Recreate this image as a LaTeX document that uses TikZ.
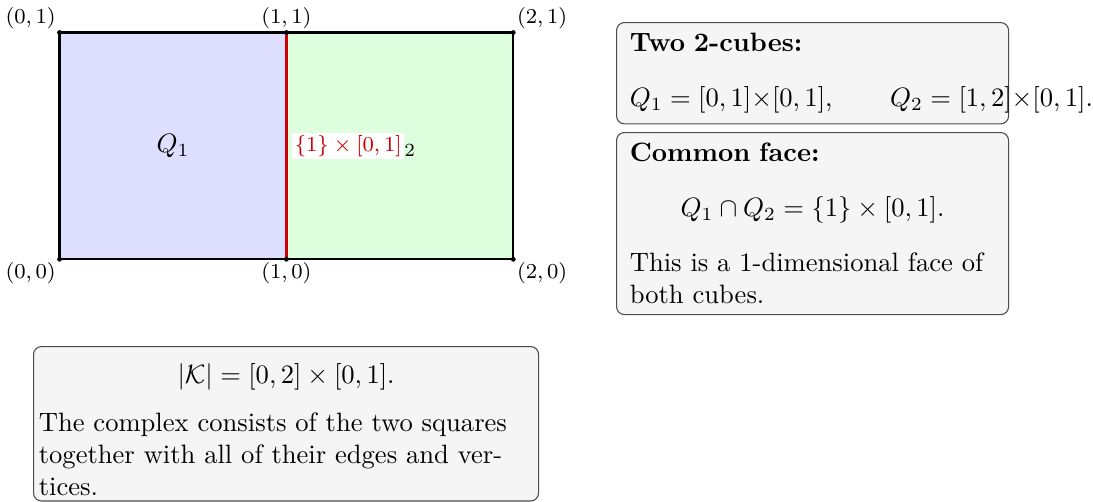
\documentclass[tikz,border=0pt]{standalone}
\usepackage{amsmath}
\begin{document}
\begin{tikzpicture}[x=0.3762pt,y=-0.3762pt,
  vlabel/.style={font=\footnotesize,inner sep=1.2pt},
  edgeline/.style={draw=black,thick},
  faceline/.style={draw=red!80!black,line width=1.35pt},
  infobox/.style={draw=black!70,fill=black!4,rounded corners=3pt,anchor=north west,align=left,inner xsep=5pt,inner ysep=4pt,text width=137.5pt},
]
\useasboundingbox (0,0) rectangle (1093,502);
\coordinate (v00) at (59.5,259.3);
\coordinate (v10) at (286.4,259.3);
\coordinate (v20) at (513.3,259.3);
\coordinate (v01) at (59.5,32.5);
\coordinate (v11) at (286.4,32.5);
\coordinate (v21) at (513.3,32.5);
\coordinate (mid) at (286.4,145.9);
\fill[blue!13] (v00) rectangle (v11);
\fill[green!13] (v10) rectangle (v21);
\draw[edgeline] (v00) -- (v10) -- (v20) -- (v21) -- (v11) -- (v01) -- cycle;
\draw[faceline] (v10) -- (v11);
\foreach \v in {v00,v10,v20,v01,v11,v21} \fill (\v) circle (0.9pt);
\node[vlabel,above left] (l01) at (v01) {$(0,1)$};
\node[vlabel,above] (l11) at (v11) {$(1,1)$};
\node[vlabel,above right] (l21) at (v21) {$(2,1)$};
\node[vlabel,below left] (l00) at (v00) {$(0,0)$};
\node[vlabel,below] (l10) at (v10) {$(1,0)$};
\node[vlabel,below right] (l20) at (v20) {$(2,0)$};
\node (q1) at (173,145.9) {$Q_1$};
\node (q2) at (399.85,145.9) {$Q_2$};
\node[font=\footnotesize,text=red!80!black,fill=white,inner sep=1pt,anchor=west,xshift=2pt] (face) at (mid) {$\{1\}\times[0,1]$};
\node[infobox] (b1) at (616,22) {\abovedisplayskip=8.7pt\belowdisplayskip=8.7pt\textbf{Two 2-cubes:}\[ Q_1=[0,1]\times[0,1],\qquad Q_2=[1,2]\times[0,1]. \]};
\node[infobox] (b2) at (616,132) {\abovedisplayskip=8.7pt\belowdisplayskip=8.7pt\textbf{Common face:}\[ Q_1\cap Q_2=\{1\}\times[0,1]. \]This is a $1$-dimensional face of both cubes.};
\node[infobox,text width=186pt,inner sep=2pt] (b3) at (33,346) {\[ |\mathcal{K}|=[0,2]\times[0,1]. \]The complex consists of the two squares together with all of their edges and vertices.};
\end{tikzpicture}
\end{document}
